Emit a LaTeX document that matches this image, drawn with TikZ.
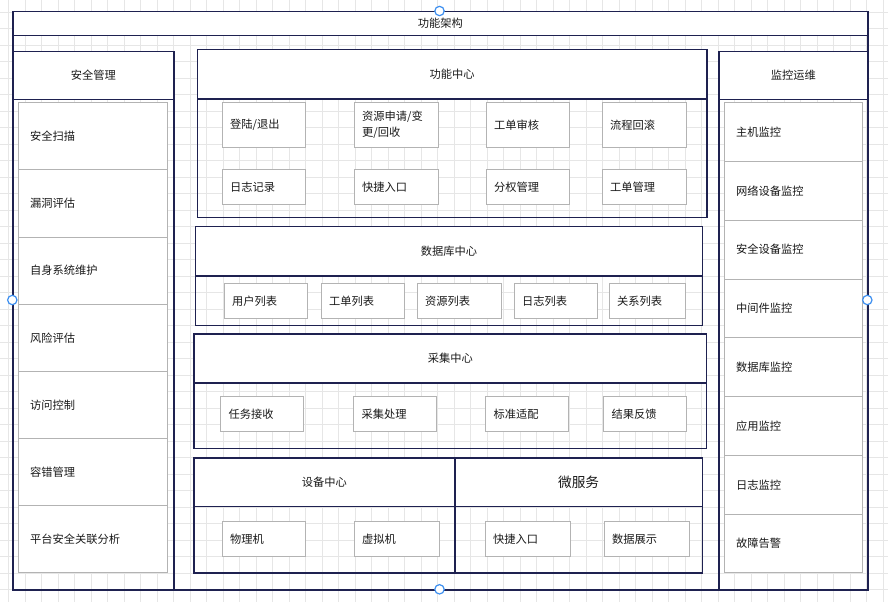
\documentclass[tikz,border=0pt]{standalone}
\usepackage{fontspec}
\newfontfamily\cjk{Noto Sans CJK SC}
\definecolor{navy}{HTML}{1E2150}
\definecolor{itemgray}{HTML}{B3B3B3}
\definecolor{gridc}{HTML}{E6E6E6}
\definecolor{txt}{HTML}{1A1A1A}
\definecolor{handle}{HTML}{3D8FF0}
\newcommand\rbox[7]{%
  \pgfmathsetmacro\bw{#5-#3}\pgfmathsetmacro\bh{#6-#4}%
  \node[#1, minimum width=\bw pt, minimum height=\bh pt] (#2) at (#3,#4) {#7};}
\newcommand\ritem[7]{%
  \pgfmathsetmacro\bw{#4-#2}\pgfmathsetmacro\bh{#5-#3}%
  \node[ibox, minimum width=\bw pt, minimum height=\bh pt] (#1) at (#2,#3) {};
  \node[itxt] (#1-t) at ([xshift=#6pt]#1.west) {#7};}
\begin{document}
\begin{tikzpicture}[x=1pt,y=-1pt,
  cont/.style={draw=navy, line width=1.2pt, rectangle, inner sep=0pt, anchor=north west},
  hdr/.style={cont, fill=white, text=txt, font=\cjk\fontsize{11.25}{14}\selectfont},
  bighdr/.style={hdr, font=\cjk\fontsize{13.7}{16}\selectfont},
  ibox/.style={draw=itemgray, fill=white, line width=1pt, rectangle, inner sep=0pt, anchor=north west},
  itxt/.style={font=\cjk\fontsize{11.25}{16}\selectfont, text=txt, inner sep=0pt, anchor=west, align=left},
  gridline/.style={draw=gridc, line width=0.8pt},
  hdl/.style={circle, draw=handle, fill=white, line width=1.2pt, minimum size=9.4pt, inner sep=0pt}]
\useasboundingbox (0,0) rectangle (888,602);
\fill[white] (0,0) rectangle (888,602);
% grid
\foreach \gx in {0,...,53} {\draw[gridline] (8.5+16.5*\gx,0) -- (8.5+16.5*\gx,602);}
\foreach \gy in {0,...,36} {\draw[gridline] (0,-4.5+16.5*\gy) -- (888,-4.5+16.5*\gy);}
% outer frame
\rbox{cont}{frame}{12.3}{11}{867.3}{589.3}{}
\rbox{hdr}{frameh}{12.3}{11}{867.3}{35}{功能架构}
% left column
\rbox{cont}{aq}{12.3}{50.7}{173.3}{589.3}{}
\rbox{hdr}{aqh}{12.3}{50.7}{173.3}{99}{安全管理}
\ritem{aq1}{18.3}{102.3}{167.3}{169.44}{11.7}{安全扫描}
\ritem{aq2}{18.3}{169.44}{167.3}{236.59}{11.7}{漏洞评估}
\ritem{aq3}{18.3}{236.59}{167.3}{303.73}{11.7}{自身系统维护}
\ritem{aq4}{18.3}{303.73}{167.3}{370.87}{11.7}{风险评估}
\ritem{aq5}{18.3}{370.87}{167.3}{438.01}{11.7}{访问控制}
\ritem{aq6}{18.3}{438.01}{167.3}{505.16}{11.7}{容错管理}
\ritem{aq7}{18.3}{505.16}{167.3}{572.3}{11.7}{平台安全关联分析}
% right column
\rbox{cont}{jk}{718.3}{50.7}{867.3}{589.3}{}
\rbox{hdr}{jkh}{718.3}{50.7}{867.3}{99}{监控运维}
\ritem{jk1}{724.3}{102.3}{861.5}{161.05}{11.7}{主机监控}
\ritem{jk2}{724.3}{161.05}{861.5}{219.8}{11.7}{网络设备监控}
\ritem{jk3}{724.3}{219.8}{861.5}{278.55}{11.7}{安全设备监控}
\ritem{jk4}{724.3}{278.55}{861.5}{337.3}{11.7}{中间件监控}
\ritem{jk5}{724.3}{337.3}{861.5}{396.05}{11.7}{数据库监控}
\ritem{jk6}{724.3}{396.05}{861.5}{454.8}{11.7}{应用监控}
\ritem{jk7}{724.3}{454.8}{861.5}{513.55}{11.7}{日志监控}
\ritem{jk8}{724.3}{513.55}{861.5}{572.3}{11.7}{故障告警}
% 功能中心
\rbox{cont}{gn}{196.7}{48.7}{706.3}{216.7}{}
\rbox{hdr}{gnh}{196.7}{48.7}{706.3}{98.3}{功能中心}
\ritem{gn1}{222.3}{102.3}{305.3}{147}{7.7}{登陆/退出}
\ritem{gn2}{354.3}{102.3}{438.3}{147}{7.7}{资源申请/变\\更/回收}
\ritem{gn3}{486.3}{102.3}{569.3}{147}{7.7}{工单审核}
\ritem{gn4}{602.3}{102.3}{686.3}{147}{7.7}{流程回滚}
\ritem{gn5}{222.3}{169.3}{305.3}{204}{7.7}{日志记录}
\ritem{gn6}{354.3}{169.3}{438.3}{204}{7.7}{快捷入口}
\ritem{gn7}{486.3}{169.3}{569.3}{204}{7.7}{分权管理}
\ritem{gn8}{602.3}{169.3}{686.3}{204}{7.7}{工单管理}
% 数据库中心
\rbox{cont}{sj}{195}{226}{701.7}{325}{}
\rbox{hdr}{sjh}{195}{226}{701.7}{275.3}{数据库中心}
\ritem{sj1}{224.3}{283.3}{307.3}{318.3}{7.5}{用户列表}
\ritem{sj2}{321.3}{283.3}{404.3}{318.3}{7.5}{工单列表}
\ritem{sj3}{417.3}{283.3}{501.3}{318.3}{7.5}{资源列表}
\ritem{sj4}{514.3}{283.3}{597.3}{318.3}{7.5}{日志列表}
\ritem{sj5}{609.3}{283.3}{685.3}{318.3}{7.5}{关系列表}
% 采集中心
\rbox{cont}{cj}{193.3}{333.3}{706}{448}{}
\rbox{hdr}{cjh}{193.3}{333.3}{706}{382.3}{采集中心}
\ritem{cj1}{220.3}{396.3}{303.3}{431.3}{8}{任务接收}
\ritem{cj2}{353.3}{396.3}{436.3}{431.3}{8}{采集处理}
\ritem{cj3}{485.3}{396.3}{568.3}{431.3}{8}{标准适配}
\ritem{cj4}{603.3}{396.3}{686.3}{431.3}{8}{结果反馈}
% 设备中心 / 微服务
\rbox{cont}{sb}{193.3}{457.3}{454.3}{572.3}{}
\rbox{hdr}{sbh}{193.3}{457.3}{454.3}{506}{设备中心}
\rbox{cont}{wf}{454.3}{457.3}{701.7}{572.3}{}
\rbox{bighdr}{wfh}{454.3}{457.3}{701.7}{506}{微服务}
\ritem{sb1}{222.3}{521.3}{305.3}{556.3}{7.7}{物理机}
\ritem{sb2}{354.3}{521.3}{438.7}{556.3}{7.7}{虚拟机}
\ritem{wf1}{485.3}{521.3}{570.3}{556.3}{7.7}{快捷入口}
\ritem{wf2}{604.3}{521.3}{689.3}{556.3}{7.7}{数据展示}
% selection handles
\node[hdl] (h1) at (439.5,11) {};
\node[hdl] (h2) at (12.3,300) {};
\node[hdl] (h3) at (867.3,300) {};
\node[hdl] (h4) at (439.5,589.3) {};
\end{tikzpicture}
\end{document}
